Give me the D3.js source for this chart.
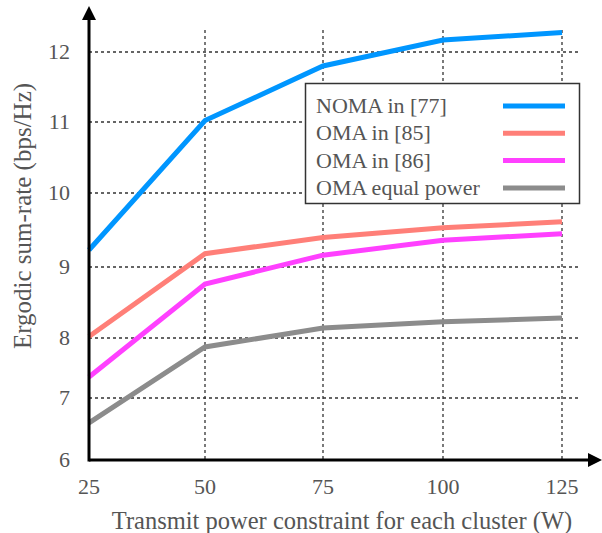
<!DOCTYPE html>
<html>
<head>
<meta charset="utf-8">
<script src="https://cdn.jsdelivr.net/npm/d3@7"></script>
<style>
body { margin: 0; background: #fff; }
text { font-family: "Liberation Serif", "DejaVu Serif", serif; fill: #555; }
</style>
</head>
<body>
<script>
// data
var powers = [25, 50, 75, 100, 125];
var nomaRef77 = [9.23, 11.02, 11.8, 12.17, 12.28];
var omaRef85 = [8.02, 9.18, 9.4, 9.53, 9.61];
var omaRef86 = [7.35, 8.76, 9.16, 9.36, 9.45];
var omaEqual = [6.6, 7.85, 8.14, 8.23, 8.28];
var seriesNames = ["NOMA in [77]", "OMA in [85]", "OMA in [86]", "OMA equal power"];
var seriesColors = ["#0096ff", "#ff7f78", "#ff40ff", "#8c8c8c"];
var yTicks = [6, 7, 8, 9, 10, 11, 12];

window.onload = drawChart();

function drawChart(){
    var width = 602,
        height = 533;

    var svg = d3.select("body")
        .append("svg")
        .attr("width", width)
        .attr("height", height);

    // gridlines in the figure are not quite evenly spaced, so piecewise scales
    var x = d3.scaleLinear()
        .domain(powers)
        .range([89, 205, 323, 443, 562]);

    var y = d3.scaleLinear()
        .domain(yTicks)
        .range([460, 398, 338, 267, 193, 122, 52]);

    // grid
    svg.append("g").selectAll("line.h")
        .data(yTicks.slice(1))
        .enter().append("line")
        .attr("x1", 89).attr("x2", 578)
        .attr("y1", d => y(d)).attr("y2", d => y(d))
        .attr("stroke", "#333").attr("stroke-width", 1.3)
        .attr("stroke-dasharray", "3,3");

    svg.append("g").selectAll("line.v")
        .data(powers.slice(1))
        .enter().append("line")
        .attr("x1", d => x(d)).attr("x2", d => x(d))
        .attr("y1", 30).attr("y2", 460)
        .attr("stroke", "#333").attr("stroke-width", 1.3)
        .attr("stroke-dasharray", "3,3");

    // lines
    var allSeries = [nomaRef77, omaRef85, omaRef86, omaEqual];
    var line = d3.line()
        .x((d, i) => x(powers[i]))
        .y(d => y(d));

    svg.append("g").selectAll("path")
        .data(allSeries)
        .enter().append("path")
        .attr("d", line)
        .attr("fill", "none")
        .attr("stroke", (d, i) => seriesColors[i])
        .attr("stroke-width", 5);

    // axes with arrows
    svg.append("line")
        .attr("x1", 89).attr("x2", 590)
        .attr("y1", 460).attr("y2", 460)
        .attr("stroke", "#000").attr("stroke-width", 3);
    svg.append("path")
        .attr("d", "M602,460 L588,453 L588,467 Z")
        .attr("fill", "#000");
    svg.append("line")
        .attr("x1", 89).attr("x2", 89)
        .attr("y1", 461.5).attr("y2", 18)
        .attr("stroke", "#000").attr("stroke-width", 3);
    svg.append("path")
        .attr("d", "M89,6 L82,20 L96,20 Z")
        .attr("fill", "#000");

    // tick labels
    svg.append("g").selectAll("text")
        .data(yTicks)
        .enter().append("text")
        .attr("x", 70)
        .attr("y", d => y(d) + 7)
        .attr("text-anchor", "end")
        .attr("font-size", 22)
        .text(d => d);

    svg.append("g").selectAll("text")
        .data(powers)
        .enter().append("text")
        .attr("x", d => x(d))
        .attr("y", 494)
        .attr("text-anchor", "middle")
        .attr("font-size", 22)
        .text(d => d);

    // axis titles
    svg.append("text")
        .attr("x", 342).attr("y", 529)
        .attr("text-anchor", "middle")
        .attr("font-size", 24.5)
        .text("Transmit power constraint for each cluster (W)");

    svg.append("text")
        .attr("transform", "translate(31,216) rotate(-90)")
        .attr("text-anchor", "middle")
        .attr("font-size", 25)
        .text("Ergodic sum-rate (bps/Hz)");

    // legend
    var legend = svg.append("g");
    legend.append("rect")
        .attr("x", 305.5).attr("y", 83.5)
        .attr("width", 274).attr("height", 120)
        .attr("fill", "#fff")
        .attr("stroke", "#333").attr("stroke-width", 1.5);

    var rows = legend.selectAll("g.row")
        .data(seriesNames)
        .enter().append("g")
        .attr("transform", (d, i) => "translate(0," + (106 + i * 27.3) + ")");
    rows.append("text")
        .attr("x", 316).attr("y", 7)
        .attr("font-size", 22)
        .text(d => d);
    rows.append("line")
        .attr("x1", 503).attr("x2", 565)
        .attr("stroke", (d, i) => seriesColors[i])
        .attr("stroke-width", 5);
}
</script>
</body>
</html>
